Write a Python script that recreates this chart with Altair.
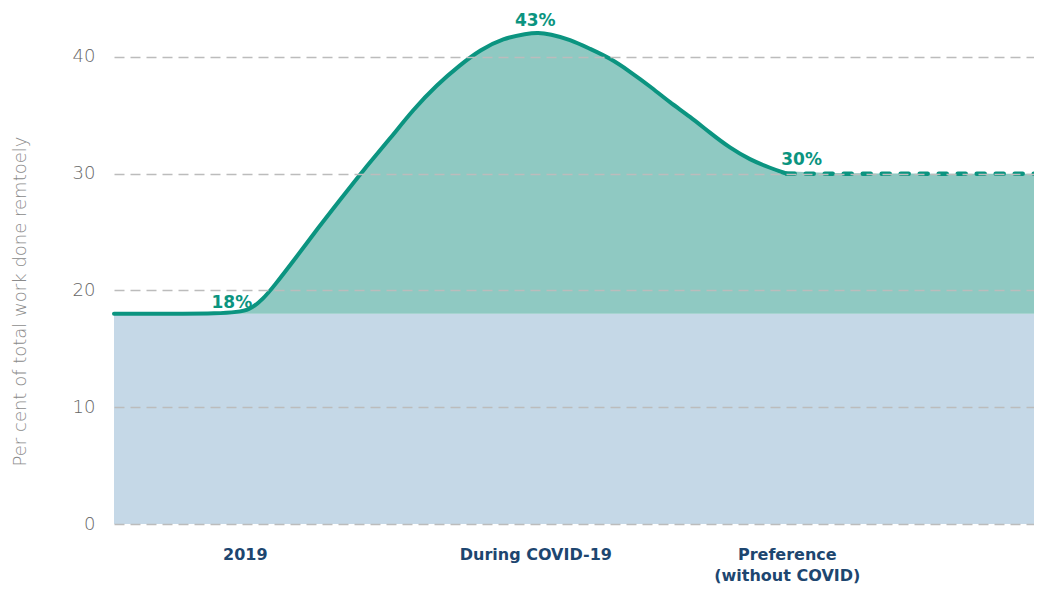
import altair as alt
import pandas as pd

# Timeline positions (abstract units, 0 = left edge of plot) and values
X_END = 99.14
curve_x = [0, 12.5, 14.66, 16.09, 17.17, 19.69, 21.84, 24.35, 26.86, 29.74, 32.25, 34.77,
           37.28, 39.44, 41.95, 44.47, 45.69, 46.98, 49.14, 51.29, 53.45, 55.60, 57.76,
           59.91, 62.07, 64.22, 66.38, 68.53, 70.69, 72.49]
curve_y = [18, 18, 18.3, 19.3, 20.3, 22.9, 25.2, 27.75, 30.3, 33.0, 35.5, 37.6,
           39.3, 40.6, 41.6, 42.0, 42.1, 41.95, 41.5, 40.7, 39.9, 38.75, 37.5,
           36.1, 34.9, 33.5, 32.2, 31.2, 30.5, 30.0]
pref_x = [72.49, X_END]
pref_y = [30, 30]
base_x = [0, X_END]
base_value = 18

categories = ["2019", "During COVID-19", "Preference\n(without COVID)"]
category_pos = [14.1, 45.4, 72.5]

label_text = ["18%", "43%", "30%"]
label_x = [12.7, 45.4, 74.1]
label_y = [18, 42, 30]
label_dy = [-6, -8, -9]

TEAL = "#0b9480"
TEAL_FILL = "#8fc9c2"
BLUE_FILL = "#c5d8e7"
NAVY = "#1d4670"
FONT = "DejaVu Sans"

curve = pd.DataFrame({"x": curve_x, "y": curve_y})
pref = pd.DataFrame({"x": pref_x, "y": pref_y})
teal_area = pd.DataFrame({"x": curve_x + pref_x[1:], "y": curve_y + pref_y[1:]})
teal_area["y0"] = base_value
base = pd.DataFrame({"x": base_x, "y": [base_value] * len(base_x), "y0": [0] * len(base_x)})
labels = pd.DataFrame({"x": label_x, "y": label_y, "t": label_text})

# label expression built from the categories
expr_parts = []
for pos, cat in zip(category_pos, categories):
    arr = "[" + ",".join("'" + l + "'" for l in cat.split("\n")) + "]"
    expr_parts.append((pos, arr))
label_expr = ""
for i, (pos, arr) in enumerate(expr_parts[:-1]):
    nxt = expr_parts[i + 1][0]
    label_expr += f"datum.value < {(pos + nxt) / 2} ? {arr} : "
label_expr += expr_parts[-1][1]

x_scale = alt.Scale(domain=[0, X_END], nice=False, zero=False)
y_scale = alt.Scale(domain=[0, 44.88], nice=False)

x_axis = alt.Axis(values=category_pos, labelExpr=label_expr, title=None, domain=False,
                  ticks=False, grid=False, labelFont=FONT, labelFontSize=16,
                  labelFontWeight="bold", labelColor=NAVY, labelPadding=22,
                  labelLineHeight=21, labelBaseline="top")
y_axis = alt.Axis(values=[0, 10, 20, 30, 40], title="Per cent of total work done remtoely",
                  domain=False, ticks=False, grid=True, gridColor="#bcbcbc",
                  gridDash=[10, 6], gridWidth=1.3, labelFont=FONT, labelFontSize=18,
                  labelFontWeight=300, labelColor="#666666", labelPadding=19,
                  titleFont=FONT, titleFontSize=18, titleFontWeight=300,
                  titleColor="#8a8a8a", titleAngle=270, titleAlign="center",
                  titleBaseline="middle", titleX=-94, titleY=301, zindex=1)

base_layer = alt.Chart(base).mark_area(color=BLUE_FILL, opacity=1).encode(
    x=alt.X("x:Q", scale=x_scale, axis=x_axis),
    y=alt.Y("y:Q", scale=y_scale, axis=y_axis),
    y2="y0:Q",
)
teal_layer = alt.Chart(teal_area).mark_area(color=TEAL_FILL, interpolate="basis", opacity=1).encode(
    x=alt.X("x:Q", scale=x_scale),
    y=alt.Y("y:Q", scale=y_scale),
    y2="y0:Q",
)
line_layer = alt.Chart(curve).mark_line(color=TEAL, strokeWidth=4, interpolate="basis",
                                        strokeCap="round").encode(
    x=alt.X("x:Q", scale=x_scale),
    y=alt.Y("y:Q", scale=y_scale),
)
dash_layer = alt.Chart(pref).mark_line(color=TEAL, strokeWidth=4.5, strokeDash=[8, 11],
                                       strokeCap="round").encode(
    x=alt.X("x:Q", scale=x_scale),
    y=alt.Y("y:Q", scale=y_scale),
)
text_layers = []
for i in range(len(label_text)):
    text_layers.append(
        alt.Chart(labels.iloc[[i]]).mark_text(color=TEAL, font=FONT, fontSize=17,
                                              fontWeight="bold", baseline="alphabetic",
                                              align="center", dy=label_dy[i]).encode(
            x=alt.X("x:Q", scale=x_scale),
            y=alt.Y("y:Q", scale=y_scale),
            text="t:N",
        )
    )

chart = alt.layer(base_layer, teal_layer, line_layer, dash_layer, *text_layers).properties(
    width=920, height=524,
    autosize=alt.AutoSizeParams(type="none"),
    padding={"left": 106, "top": -8, "right": 0, "bottom": 60},
).configure_view(stroke=None)

chart.save("out.html", embed_options={"renderer": "svg", "actions": False})
